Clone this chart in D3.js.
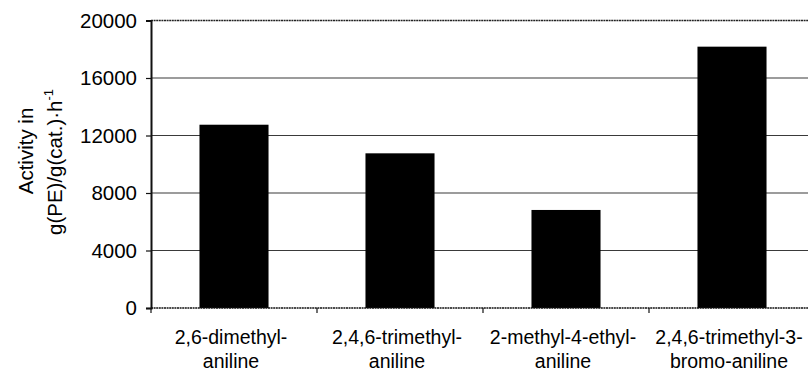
<!DOCTYPE html>
<html>
<head>
<meta charset="utf-8">
<script src="https://cdn.jsdelivr.net/npm/d3@7"></script>
<style>
  html, body { margin: 0; padding: 0; background: #fff; overflow: hidden; }
  svg { display: block; }
  text { font-family: Arial, "Liberation Sans", sans-serif; fill: #000; }
</style>
</head>
<body>
<svg id="chart" width="808" height="372"></svg>
<script>
const categoryLine1 = ["2,6-dimethyl-", "2,4,6-trimethyl-", "2-methyl-4-ethyl-", "2,4,6-trimethyl-3-"];
const categoryLine2 = ["aniline", "aniline", "aniline", "bromo-aniline"];
const activity = [12750, 10760, 6820, 18180];
const yTicks = [0, 4000, 8000, 12000, 16000, 20000];

const svg = d3.select("#chart");
const margin = { top: 20.5, left: 151, bottom: 64 };
const innerW = 664;
const innerH = 372 - margin.top - margin.bottom;

const g = svg.append("g").attr("transform", `translate(${margin.left},${margin.top})`);

const x = d3.scaleBand()
  .domain(d3.range(activity.length))
  .range([0, innerW])
  .paddingInner(0.584)
  .paddingOuter(0.292);

const y = d3.scaleLinear().domain([0, 20000]).range([innerH, 0]);

// gridlines
g.append("g")
  .selectAll("line")
  .data(yTicks.filter(d => d > 0 && d < 20000))
  .join("line")
  .attr("x1", 0).attr("x2", innerW)
  .attr("y1", d => y(d)).attr("y2", d => y(d))
  .attr("stroke", "#3a3a3a").attr("stroke-width", 1.1);

// top border
g.append("line")
  .attr("x1", 0).attr("x2", innerW)
  .attr("y1", y(20000)).attr("y2", y(20000))
  .attr("stroke", "#222").attr("stroke-width", 1.6)
  .attr("stroke-dasharray", "2,0.6");

// bars
g.selectAll("rect.bar")
  .data(activity)
  .join("rect")
  .attr("class", "bar")
  .attr("x", (d, i) => x(i))
  .attr("width", x.bandwidth())
  .attr("y", d => y(d))
  .attr("height", d => innerH - y(d))
  .attr("fill", "#000");

// y axis
const yAxis = d3.axisLeft(y).tickValues(yTicks).tickSize(5).tickPadding(9).tickFormat(d3.format("d"));
const yg = g.append("g").call(yAxis);
yg.select(".domain").attr("stroke", "#111").attr("stroke-width", 2);
yg.selectAll(".tick line").attr("stroke", "#111").attr("stroke-width", 1.2);
yg.selectAll(".tick text").attr("font-size", 20.5).attr("font-family", "Arial, 'Liberation Sans', sans-serif").attr("fill", "#000");

// x axis
const xg = g.append("g").attr("transform", `translate(0,${innerH})`);
xg.append("line").attr("x1", 0).attr("x2", innerW).attr("y1", 0).attr("y2", 0)
  .attr("stroke", "#111").attr("stroke-width", 1.6).attr("stroke-dasharray", "2,0.6");
const boundaries = d3.range(activity.length + 1).map(i => i * x.step());
xg.selectAll("line.xt").data(boundaries).join("line").attr("class", "xt")
  .attr("x1", d => d).attr("x2", d => d).attr("y1", 0).attr("y2", 5)
  .attr("stroke", "#111").attr("stroke-width", 1.2);

const labels = xg.selectAll("text.cat").data(activity).join("text").attr("class", "cat")
  .attr("text-anchor", "middle")
  .attr("font-size", 19.5);
labels.append("tspan")
  .attr("x", (d, i) => x(i) + x.bandwidth() / 2 - 3)
  .attr("y", 36)
  .text((d, i) => categoryLine1[i]);
labels.append("tspan")
  .attr("x", (d, i) => x(i) + x.bandwidth() / 2 - 3)
  .attr("y", 60)
  .text((d, i) => categoryLine2[i]);

// y label
const yl = svg.append("text")
  .attr("transform", "rotate(-90)")
  .attr("text-anchor", "middle")
  .attr("font-size", 20.5);
yl.append("tspan").attr("x", -151).attr("y", 33).text("Activity in");
const l2 = yl.append("tspan").attr("x", -162).attr("y", 62);
l2.append("tspan").text("g(PE)/g(cat.)\u00b7h");
l2.append("tspan").attr("dy", -9).attr("font-size", 13).text("-1");
</script>
</body>
</html>
